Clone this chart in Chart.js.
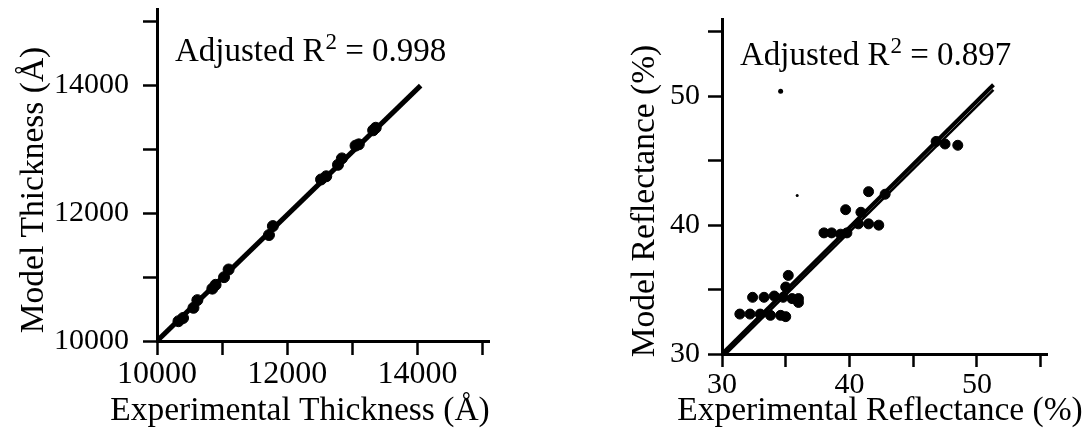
<!DOCTYPE html>
<html>
<head>
<meta charset="utf-8">
<script src="https://cdn.jsdelivr.net/npm/chart.js@4.4.1/dist/chart.umd.min.js"></script>
<style>
html, body { margin: 0; padding: 0; background: #fff; }
#wrap { position: relative; width: 1083px; height: 447px; }
.box { position: absolute; top: 0; height: 447px; }
#left { left: 0; width: 540px; }
#right { left: 540px; width: 543px; }
</style>
</head>
<body>
<div id="wrap">
  <div class="box" id="left"><canvas id="thickChart"></canvas></div>
  <div class="box" id="right"><canvas id="reflChart"></canvas></div>
</div>
<script>
// left panel - thickness (Angstrom)
var thickExp   = [10330, 10400, 10560, 10620, 10850, 10900, 11030, 11100, 11720, 11780, 12520, 12600, 12780, 12840, 13050, 13100, 13320, 13360];
var thickModel = [10310, 10360, 10520, 10640, 10820, 10880, 11000, 11120, 11660, 11800, 12530, 12580, 12760, 12860, 13060, 13080, 13300, 13340];
var thickFitX  = [10000, 14050];
var thickFitY  = [10000, 14000];
var thickTicks  = [10000, 11000, 12000, 13000, 14000, 15000];
var thickLabels = [10000, 12000, 14000];

// right panel - reflectance (%)
var reflExp   = [31.4, 32.2, 33.0, 33.8, 34.6, 35.0, 32.4, 33.3, 34.1, 34.8, 35.5, 36.0, 36.0, 35.0, 35.2, 38.0, 38.6, 39.3, 39.8, 39.7, 40.9, 40.7, 41.5, 42.3, 41.5, 42.8, 46.8, 47.5, 48.5];
var reflModel = [33.1, 33.1, 33.1, 33.0, 33.0, 32.9, 34.4, 34.4, 34.5, 34.4, 34.3, 34.3, 34.0, 35.2, 36.1, 39.4, 39.4, 39.3, 39.4, 41.2, 41.0, 40.1, 40.1, 40.0, 42.6, 42.4, 46.5, 46.3, 46.2];
var reflFitX  = [30, 51.3];
var reflFitY  = [30, 50.9];
var reflFit2X = [30.2, 51.3];
var reflFit2Y = [29.9, 50.5];
var reflSpeckX = [34.6, 35.9];
var reflSpeckY = [50.4, 42.3];
var reflTicks  = [30, 35, 40, 45, 50, 55];
var reflLabels = [30, 40, 50];

var serif = "'Liberation Serif', 'Times New Roman', serif";
Chart.defaults.font.family = serif;
Chart.defaults.color = '#000';

function pairs(xs, ys) {
    return xs.map(function(x, i) { return {x: x, y: ys[i]}; });
}

// "Adjusted R^2 = ..." in the top left of the plot area
var r2Label = {
    id: 'r2Label',
    afterDraw: function(chart, args, o) {
        var ctx = chart.ctx, a = chart.chartArea;
        var x = a.left + o.dx, y = a.top + o.dy;
        ctx.save();
        ctx.fillStyle = '#000';
        ctx.textBaseline = 'alphabetic';
        ctx.font = '33px ' + serif;
        ctx.fillText('Adjusted R', x, y);
        x += ctx.measureText('Adjusted R').width + 1;
        ctx.font = '23px ' + serif;
        ctx.fillText('2', x, y - 12);
        x += ctx.measureText('2').width;
        ctx.font = '33px ' + serif;
        ctx.fillText(' = ' + o.value, x, y);
        ctx.restore();
    }
};

// axis titles, drawn without chart.js squeezing them to the axis width
var axisTitles = {
    id: 'axisTitles',
    afterDraw: function(chart, args, o) {
        var ctx = chart.ctx;
        ctx.save();
        ctx.fillStyle = '#000';
        ctx.font = '33.5px ' + serif;
        ctx.textAlign = 'center';
        ctx.textBaseline = 'middle';
        ctx.fillText(o.xText, o.xPos[0], o.xPos[1]);
        ctx.translate(o.yPos[0], o.yPos[1]);
        ctx.rotate(-Math.PI / 2);
        ctx.fillText(o.yText, 0, 0);
        ctx.restore();
    }
};

function axis(o) {
    return {
        type: 'linear',
        position: o.position,
        min: o.min,
        max: o.max,
        border: { display: true, color: '#000', width: 3 },
        grid: { drawOnChartArea: false, drawTicks: true, tickLength: o.tickLen, tickColor: '#000', tickWidth: 2.5 },
        ticks: {
            autoSkip: false, maxRotation: 0, padding: o.pad,
            color: '#000', font: { size: o.fontSize },
            callback: function(v) { return o.labels.indexOf(v) >= 0 ? String(v) : ''; }
        },
        title: { display: false },
        afterBuildTicks: function(s) {
            s.ticks = o.ticks.map(function(v) { return {value: v}; });
        },
        afterFit: function(s) {
            if (o.position === 'left') {
                s.width = o.size; s.paddingTop = 0; s.paddingBottom = 0;
            } else {
                s.height = o.size; s.paddingLeft = 0; s.paddingRight = 0;
            }
        }
    };
}

// Thickness chart
new Chart(document.getElementById('thickChart'), {
    type: 'scatter',
    data: {
        datasets: [
        {
            data: pairs(thickFitX, thickFitY),
            showLine: true,
            borderColor: '#000',
            borderWidth: 5,
            pointRadius: 0
        },
        {
            data: pairs(thickExp, thickModel),
            backgroundColor: '#000',
            borderColor: '#000',
            pointRadius: 5.5
        }
    ]
    },
    options: {
        responsive: true,
        maintainAspectRatio: false,
        animation: false,
        layout: { padding: { left: 0, top: 9, right: 51, bottom: 0 } },
        plugins: {
            legend: { display: false },
            tooltip: { enabled: false },
            r2Label: { dx: 18, dy: 52, value: '0.998' },
            axisTitles: { xText: 'Experimental Thickness (Å)', xPos: [300, 411],
                          yText: 'Model Thickness (Å)', yPos: [34, 190] }
        },
        scales: {
            x: axis({ position: 'bottom', min: 10000, max: 15100, ticks: thickTicks, labels: thickLabels, fontSize: 32,
                      tickLen: 14, pad: 0, size: 106 }),
            y: axis({ position: 'left', min: 10000, max: 15200, ticks: thickTicks, labels: thickLabels, fontSize: 30,
                      tickLen: 14, pad: 14, size: 157 })
        }
    },
    plugins: [r2Label, axisTitles]
});

// Reflectance chart
new Chart(document.getElementById('reflChart'), {
    type: 'scatter',
    data: {
        datasets: [
        {
            data: pairs(reflFitX, reflFitY),
            showLine: true,
            borderColor: '#000',
            borderWidth: 4,
            pointRadius: 0
        },
        {
            data: pairs(reflFit2X, reflFit2Y),
            showLine: true,
            borderColor: '#000',
            borderWidth: 2.5,
            pointRadius: 0
        },
        {
            data: pairs(reflExp, reflModel),
            backgroundColor: '#000',
            borderColor: '#000',
            pointRadius: 5
        },
        {
            data: pairs(reflSpeckX, reflSpeckY),
            backgroundColor: '#000',
            borderColor: '#000',
            pointRadius: [2.5, 1.5],
            borderWidth: 0
        }
    ]
    },
    options: {
        responsive: true,
        maintainAspectRatio: false,
        animation: false,
        layout: { padding: { left: 0, top: 19, right: 36, bottom: 0 } },
        plugins: {
            legend: { display: false },
            tooltip: { enabled: false },
            r2Label: { dx: 18, dy: 46, value: '0.897' },
            axisTitles: { xText: 'Experimental Reflectance (%)', xPos: [340, 411],
                          yText: 'Model Reflectance (%)', yPos: [105, 201] }
        },
        scales: {
            x: axis({ position: 'bottom', min: 30, max: 55.5, ticks: reflTicks, labels: reflLabels, fontSize: 30,
                      tickLen: 13, pad: 0, size: 93 }),
            y: axis({ position: 'left', min: 30, max: 56, ticks: reflTicks, labels: reflLabels, fontSize: 30,
                      tickLen: 14, pad: 8, size: 182 })
        }
    },
    plugins: [r2Label, axisTitles]
});
</script>
</body>
</html>
